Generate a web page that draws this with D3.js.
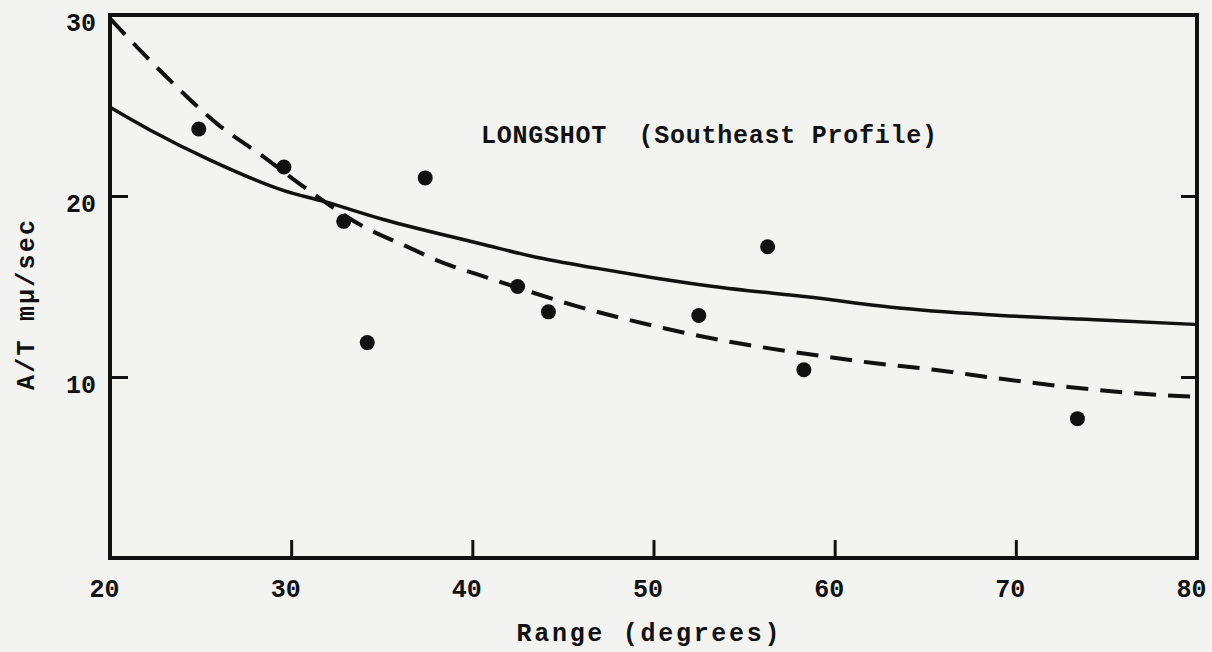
<!DOCTYPE html>
<html>
<head>
<meta charset="utf-8">
<script src="https://cdn.jsdelivr.net/npm/d3@7"></script>
<style>
  body { margin: 0; background: #f3f3f1; }
  text { font-family: "Liberation Mono", "DejaVu Sans Mono", monospace; font-weight: bold; fill: #111; }
</style>
</head>
<body>
<div id="chart"></div>
<script>
// measured points (range in degrees, A/T in mu/sec)
var rangeDeg = [24.9, 29.6, 32.9, 34.2, 37.4, 42.5, 44.2, 52.5, 56.3, 58.3, 73.4];
var ampPeriod = [23.7, 21.6, 18.6, 11.9, 21.0, 15.0, 13.6, 13.4, 17.2, 10.4, 7.7];

// solid curve
var solidX = [20, 22.2, 25.5, 29.6, 31.8, 35.1, 40.5, 43.6, 46.9, 49.9, 53.3, 58.7, 63.7, 69.2, 74.7, 80];
var solidY = [24.9, 23.65, 22.0, 20.3, 19.7, 18.7, 17.35, 16.6, 16.0, 15.5, 15.0, 14.4, 13.8, 13.4, 13.15, 12.9];

// dashed curve
var dashX = [20, 23.3, 25.9, 28.5, 30.7, 34.0, 36.4, 38.4, 40.5, 42.3, 45.8, 49.7, 53.9, 58.3, 61.9, 65.5, 69.2, 72.9, 76.6, 80];
var dashY = [29.8, 26.4, 24.0, 22.15, 20.5, 18.3, 17.2, 16.3, 15.6, 15.0, 13.9, 12.9, 12.0, 11.3, 10.8, 10.4, 9.9, 9.45, 9.1, 8.9];

var xTicks = [20, 30, 40, 50, 60, 70, 80];
var yTicks = [10, 20, 30];

var W = 1212, H = 652;
var margin = {top: 15, right: 15, bottom: 94, left: 110};
var width = W - margin.left - margin.right,
    height = H - margin.top - margin.bottom;

var svg = d3.select("#chart")
  .append("svg")
    .attr("width", W)
    .attr("height", H);

var g = svg.append("g")
    .attr("transform", "translate(" + margin.left + "," + margin.top + ")");

var x = d3.scaleLinear().domain([20, 80]).range([0, width]);
var y = d3.scaleLinear().domain([0, 30]).range([height, 0]);

// bottom axis, ticks pointing inward
var xAxis = g.append("g")
    .attr("transform", "translate(0," + height + ")")
    .call(d3.axisBottom(x).tickValues(xTicks).tickSize(-18).tickPadding(21).tickFormat(d3.format("d")));
xAxis.select(".domain").remove();
xAxis.selectAll("line").attr("stroke", "#111").attr("stroke-width", 3);
xAxis.selectAll("text").attr("font-size", 25).attr("dx", -6);

// left axis
var yAxis = g.append("g")
    .call(d3.axisLeft(y).tickValues(yTicks).tickSize(-18).tickPadding(14).tickFormat(d3.format("d")));
yAxis.select(".domain").remove();
yAxis.selectAll("line").attr("stroke", "#111").attr("stroke-width", 3);
yAxis.selectAll("text").attr("font-size", 25).attr("dy", "0.6em");

// right axis ticks only
var yAxisR = g.append("g")
    .attr("transform", "translate(" + width + ",0)")
    .call(d3.axisRight(y).tickValues([10, 20]).tickSize(-16).tickFormat(""));
yAxisR.select(".domain").remove();
yAxisR.selectAll("line").attr("stroke", "#111").attr("stroke-width", 3);

// frame
g.append("rect")
    .attr("x", 0).attr("y", 0)
    .attr("width", width).attr("height", height)
    .attr("fill", "none")
    .attr("stroke", "#111")
    .attr("stroke-width", 4);

var line = d3.line()
    .x(function(d) { return x(d[0]); })
    .y(function(d) { return y(d[1]); })
    .curve(d3.curveMonotoneX);

g.append("path")
    .datum(d3.zip(solidX, solidY))
    .attr("d", line)
    .attr("fill", "none")
    .attr("stroke", "#111")
    .attr("stroke-width", 3.5);

g.append("path")
    .datum(d3.zip(dashX, dashY))
    .attr("d", line)
    .attr("fill", "none")
    .attr("stroke", "#111")
    .attr("stroke-width", 4)
    .attr("stroke-dasharray", "22,12");

g.selectAll("circle.pt")
    .data(d3.zip(rangeDeg, ampPeriod))
    .enter()
    .append("circle")
    .attr("class", "pt")
    .attr("cx", function(d) { return x(d[0]); })
    .attr("cy", function(d) { return y(d[1]); })
    .attr("r", 7.5)
    .attr("fill", "#111");

// title inside the plot
svg.append("text")
    .attr("x", 481).attr("y", 143)
    .attr("font-size", 25)
    .attr("textLength", 456)
    .attr("xml:space", "preserve")
    .text("LONGSHOT  (Southeast Profile)");

// axis titles
svg.append("text")
    .attr("x", 648).attr("y", 641)
    .attr("text-anchor", "middle")
    .attr("font-size", 25)
    .attr("textLength", 263)
    .text("Range (degrees)");

svg.append("text")
    .attr("transform", "translate(34,305) rotate(-90)")
    .attr("text-anchor", "middle")
    .attr("font-size", 25)
    .attr("textLength", 170)
    .text("A/T mμ/sec");
</script>
</body>
</html>
